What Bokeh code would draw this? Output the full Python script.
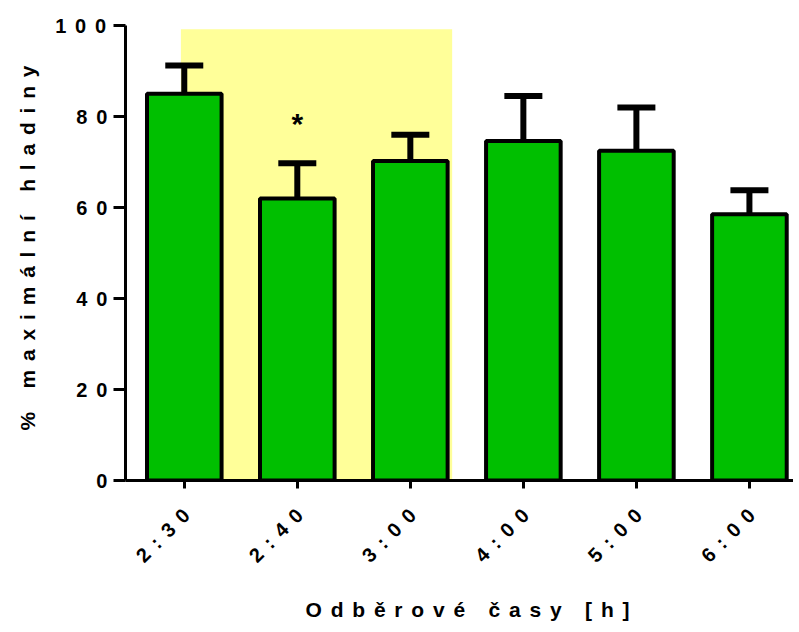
import math
from bokeh.plotting import figure
from bokeh.models import (ColumnDataSource, FixedTicker, Range1d, Whisker, TeeHead,
                          BoxAnnotation, InlineStyleSheet, LinearAxis, Title,
                          CustomJSTickFormatter)
from bokeh.core.properties import value
from bokeh.embed import file_html
from bokeh.resources import INLINE

# ---- data ----
categories = ["2:30", "2:40", "3:00", "4:00", "5:00", "6:00"]
means = [85.0, 62.0, 70.2, 74.6, 72.5, 58.5]
upper = [91.2, 69.7, 76.0, 84.5, 82.0, 63.8]
star_labels = ["", "*", "", "", "", ""]
star_y = [None, 78.5, None, None, None, None]
y_ticks = [0, 20, 40, 60, 80, 100]
y_tick_labels = ["0", "20", "40", "60", "80", "100"]
x_title = "Odběrové časy [h]"
y_title = "% maximální hladiny"
shaded_from, shaded_to = "2:30", "3:00"

x = list(range(len(categories)))
src = ColumnDataSource(dict(x=x, mean=means, upper=upper))

FONT = "Liberation Sans"
LS = 8.8          # letter spacing (px), applied through CSS
X0, X1 = -0.52, 5.39
FRAME_W, FRAME_H = 668, 455
px_per_unit = FRAME_W / (X1 - X0)

p = figure(frame_width=FRAME_W, frame_height=FRAME_H, output_backend="svg",
           toolbar_location=None, x_range=Range1d(X0, X1), y_range=Range1d(0, 100),
           min_border_left=124, min_border_right=0, min_border_top=25, min_border_bottom=0)
p.outline_line_color = None
p.xgrid.visible = False
p.ygrid.visible = False
p.background_fill_color = "white"
p.border_fill_color = "white"

# shaded region
i0 = categories.index(shaded_from)
i1 = categories.index(shaded_to)
p.add_layout(BoxAnnotation(left=i0 - 0.03, right=i1 + 0.37, bottom=0, top=99.2,
                           fill_color="#FFFF99", fill_alpha=1.0, line_color=None, level="underlay"))

# error bars
w = Whisker(base="x", lower="mean", upper="upper", source=src, dimension="height",
            line_color="black", line_width=6,
            upper_head=TeeHead(size=38, line_width=6, line_color="black"), lower_head=None)
p.add_layout(w)

# bars
p.vbar(x="x", top="mean", width=0.66, bottom=0, source=src,
       fill_color="#00BF00", line_color="black", line_width=4)

# significance marks
sx = [xi for xi, s in zip(x, star_labels) if s]
sy = [yi for yi, s in zip(star_y, star_labels) if s]
st = [s for s in star_labels if s]
p.text(x=sx, y=sy, text=st, text_align="center", text_baseline="middle",
       text_font=value(FONT), text_font_size="30px", text_font_style="bold", text_color="black")

# ---- axes ----
xa = p.xaxis[0]
ya = p.yaxis[0]
for ax in (xa, ya):
    ax.axis_line_width = 3
    ax.axis_line_color = "black"
    ax.major_tick_line_width = 3
    ax.major_tick_line_color = "black"
    ax.minor_tick_line_color = None
    ax.major_tick_in = 0
    ax.major_label_text_font = FONT
    ax.major_label_text_font_style = "bold"
    ax.major_label_text_font_size = "20px"
    ax.major_label_text_color = "black"

# x axis: line + ticks only
xa.ticker = FixedTicker(ticks=x)
xa.major_tick_out = 8
xa.formatter = CustomJSTickFormatter(code="return ''")
xa.major_label_text_font_size = "0px"
xa.major_label_standoff = 0

# x tick labels on a label-only axis, shifted to compensate the letter spacing
n_lab = len(categories[0])
along = (n_lab - 1) * LS * math.cos(math.pi / 4)
dx = (along - 2) / px_per_unit
p.extra_x_ranges = {"lab": Range1d(X0 + dx, X1 + dx)}
xl = LinearAxis(x_range_name="lab", ticker=FixedTicker(ticks=x),
                major_label_overrides={i: c for i, c in zip(x, categories)},
                axis_line_color=None, major_tick_line_color=None, minor_tick_line_color=None,
                major_tick_out=0, major_tick_in=0, major_label_orientation=math.pi / 4,
                major_label_standoff=int(round(23 + along)),
                major_label_text_font=FONT, major_label_text_font_style="bold",
                major_label_text_font_size="20px", major_label_text_color="black")
p.add_layout(xl, "below")


# y axis: right-aligned labels; pad so that the letter-spaced glyphs line up
def pad_label(lab, ref_len=2):
    n = len(lab)
    if n < ref_len:
        return "\u00a0" * (ref_len - n) + lab
    if n > ref_len:
        return lab + "\u2002" * (n - ref_len)
    return lab


ya.ticker = FixedTicker(ticks=y_ticks)
ya.major_label_overrides = {t: pad_label(l) for t, l in zip(y_ticks, y_tick_labels)}
ya.major_tick_out = 12
ya.major_label_standoff = int(round(6 + LS))

# axis titles
p.add_layout(Title(text=x_title, align="left", offset=180,
                   standoff=37, text_font=FONT, text_font_style="bold",
                   text_font_size="21px", text_color="black"), "below")
p.add_layout(Title(text=y_title, align="left", offset=50,
                   standoff=27, text_font=FONT, text_font_style="bold",
                   text_font_size="21px", text_color="black"), "left")

p.stylesheets = [InlineStyleSheet(css=":host { letter-spacing: %.1fpx; }" % LS)]

open("out.html", "w").write(file_html(p, INLINE))
